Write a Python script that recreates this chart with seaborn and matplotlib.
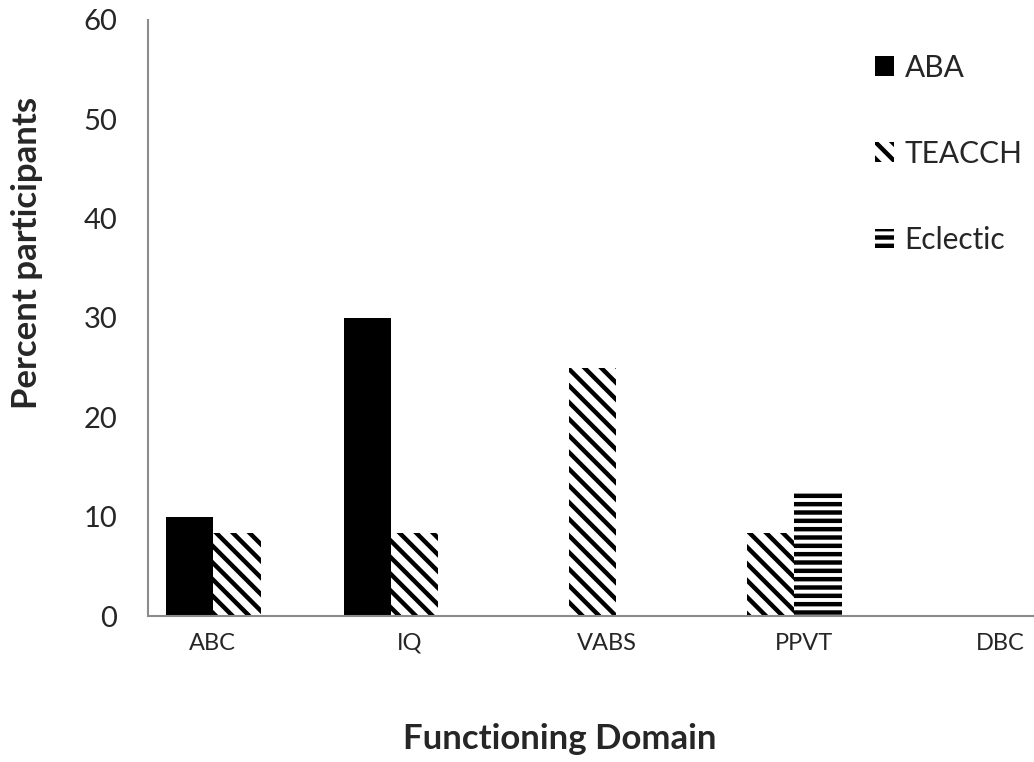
import numpy as np
import pandas as pd
import matplotlib
matplotlib.use("Agg")
import matplotlib.pyplot as plt
import seaborn as sns

# data
domains = ["ABC", "IQ", "VABS", "PPVT", "DBC"]
methods = ["ABA", "TEACCH", "Eclectic"]
aba = [10, 30, 0, 0, 0]
teacch = [8.33, 8.33, 25, 8.33, 0]
eclectic = [0, 0, 0, 12.5, 0]

df = pd.DataFrame({"domain": domains * 3,
                   "method": np.repeat(methods, len(domains)),
                   "pct": aba + teacch + eclectic})

sns.set_style("white")
plt.rcParams["font.family"] = ["Lato", "DejaVu Sans"]
plt.rcParams["hatch.linewidth"] = 3.2
plt.rcParams["hatch.color"] = "black"

fig = plt.figure(figsize=(10.34, 7.62), dpi=100)
ax = fig.add_axes([0.143, 0.1916, 0.857, 0.7824])

sns.barplot(data=df, x="domain", y="pct", hue="method", order=domains,
            hue_order=methods, palette=["black", "white", "white"],
            width=0.8, edgecolor="black", linewidth=0, ax=ax)

hatches = ["", "\\\\", "--"]
for cont, h in zip(ax.containers, hatches):
    for bar in cont:
        bar.set_hatch(h)

ax.set_ylim(0, 60)
ax.set_yticks(range(0, 61, 10))
ax.set_xlim(-0.5, 4.48)
# category labels sit a little off the group centres in the original
ax.set_xticks(np.arange(len(domains)) * 1.107 - 0.135, domains)

for s in ["top", "right"]:
    ax.spines[s].set_visible(False)
for s in ["left", "bottom"]:
    ax.spines[s].set_color("#8c8c8c")
    ax.spines[s].set_linewidth(1.5)

ax.tick_params(axis="y", direction="in", length=7, width=1.5, color="#8c8c8c",
               labelsize=21, pad=22)
ax.tick_params(axis="x", length=0, labelsize=17, pad=12)

ax.set_ylabel("Percent participants", fontsize=25, fontweight="bold")
ax.set_xlabel("Functioning Domain", fontsize=25, fontweight="bold")
ax.yaxis.set_label_coords(-0.118, 0.609)
ax.xaxis.set_label_coords(0.465, -0.18)

leg = ax.legend(loc="upper left", bbox_to_anchor=(0.82, 0.965),
                bbox_transform=fig.transFigure, frameon=False, fontsize=21.5,
                handlelength=0.65, handleheight=0.65, handletextpad=0.35,
                labelspacing=1.95)
for hnd, h in zip(leg.legend_handles, hatches):
    hnd.set_hatch(h)
    hnd.set_edgecolor("black")
    hnd.set_linewidth(0)

fig.savefig("out.png", dpi=100)
